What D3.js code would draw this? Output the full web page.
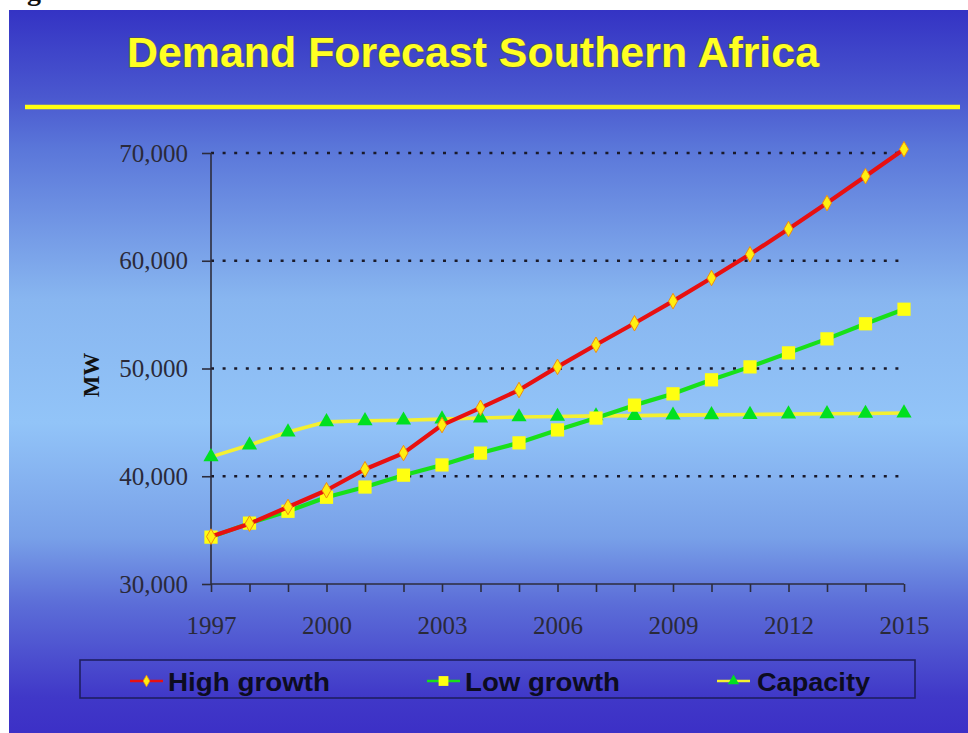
<!DOCTYPE html>
<html>
<head>
<meta charset="utf-8">
<script src="https://cdn.jsdelivr.net/npm/d3@7"></script>
<style>
  html, body { margin: 0; padding: 0; background: #ffffff; }
  svg { display: block; }
</style>
</head>
<body>
<svg id="chart" width="968" height="733"></svg>
<script>
// Southern Africa power demand forecast vs installed capacity (MW)
const years = d3.range(1997, 2016);
const highGrowth = [34400, 35600, 37150, 38700, 40650, 42150, 44750, 46350, 48000, 50150,
                    52200, 54200, 56250, 58400, 60600, 62950, 65350, 67850, 70350];
const lowGrowth  = [34350, 35650, 36750, 38050, 39000, 40100, 41050, 42150, 43100, 44300,
                    45400, 46600, 47650, 48950, 50150, 51450, 52750, 54150, 55500];
const capacity   = [41800, 42900, 44100, 45050, 45150, 45200, 45300, 45400, 45500, 45550,
                    45600, 45630, 45670, 45700, 45730, 45770, 45800, 45830, 45870];
const yTicks = [30000, 40000, 50000, 60000, 70000];
const xLabels = [1997, 2000, 2003, 2006, 2009, 2012, 2015];
const seriesNames = ["High growth", "Low growth", "Capacity"];
const titleText = "Demand Forecast Southern Africa";

const svg = d3.select("#chart");
const W = 968, H = 733;

// slide background
const defs = svg.append("defs");
const grad = defs.append("linearGradient")
  .attr("id", "slideBg").attr("x1", 0).attr("y1", 0).attr("x2", 0).attr("y2", 1);
[
  [0.00, "#3433c4"], [0.12, "#4a58cf"], [0.19, "#5a76d9"], [0.40, "#88b6f0"],
  [0.57, "#92c4f8"], [0.73, "#78a0e8"], [0.82, "#5c6ed8"], [0.95, "#4038c8"], [1.00, "#3c30c6"]
].forEach(([o, c]) => grad.append("stop").attr("offset", o).attr("stop-color", c));

// caption fragment above the slide
svg.append("text")
  .attr("x", 2).attr("y", 0)
  .attr("font-family", "'Liberation Serif', 'Times New Roman', serif")
  .attr("font-weight", "bold").attr("font-size", 28).attr("fill", "#111")
  .text("Figure");

svg.append("rect")
  .attr("x", 9).attr("y", 10).attr("width", W - 9).attr("height", H - 10)
  .attr("fill", "url(#slideBg)");

// title and rule
svg.append("text")
  .attr("x", 127).attr("y", 67)
  .attr("font-family", "'Liberation Sans', Arial, sans-serif")
  .attr("font-weight", "bold").attr("font-size", 43)
  .attr("textLength", 692).attr("lengthAdjust", "spacingAndGlyphs")
  .attr("fill", "#ffff22")
  .attr("stroke", "rgba(90,90,40,0.6)").attr("stroke-width", 1.4)
  .attr("paint-order", "stroke")
  .text(titleText);

svg.append("line")
  .attr("x1", 25).attr("x2", 960).attr("y1", 107).attr("y2", 107)
  .attr("stroke", "#ffff10").attr("stroke-width", 4.5);

// scales
const x = d3.scaleLinear().domain([1997, 2015]).range([211, 904]);
const y = d3.scaleLinear().domain([30000, 70000]).range([584, 153]);

const serif = "'Liberation Serif', 'Times New Roman', serif";
const axisColor = "#2c2c3c";

// dotted gridlines
svg.append("g").selectAll("line")
  .data(yTicks.filter(v => v > 30000))
  .join("line")
  .attr("x1", x(1997)).attr("x2", x(2015))
  .attr("y1", d => y(d)).attr("y2", d => y(d))
  .attr("stroke", "#1a1a2a").attr("stroke-width", 2.6)
  .attr("stroke-dasharray", "3,8.6");

// y axis
const yAxis = d3.axisLeft(y)
  .tickValues(yTicks)
  .tickSize(9)
  .tickPadding(14)
  .tickFormat(d3.format(","));
const gy = svg.append("g").attr("transform", `translate(${x(1997)},0)`).call(yAxis);
gy.select(".domain").attr("stroke", axisColor).attr("stroke-width", 1.6).attr("d", `M-0,${y(70000)}V${y(30000)}`);
gy.selectAll(".tick line").attr("stroke", axisColor).attr("stroke-width", 1.6);
gy.selectAll(".tick text")
  .attr("font-family", serif).attr("font-size", 25).attr("fill", "#2a2a3a");

// x axis
const xAxis = d3.axisBottom(x)
  .tickValues(years)
  .tickSize(8)
  .tickPadding(24)
  .tickFormat(d => xLabels.includes(d) ? String(d) : "");
const gx = svg.append("g").attr("transform", `translate(0,${y(30000)})`).call(xAxis);
gx.select(".domain").attr("stroke", axisColor).attr("stroke-width", 1.6).attr("d", `M${x(1997)},0H${x(2015)}`);
gx.selectAll(".tick line").attr("stroke", axisColor).attr("stroke-width", 1.6);
gx.selectAll(".tick text")
  .attr("font-family", serif).attr("font-size", 25).attr("fill", "#2a2a3a");

// axis title
svg.append("text")
  .attr("transform", "translate(99,375) rotate(-90)")
  .attr("text-anchor", "middle")
  .attr("font-family", serif).attr("font-weight", "bold").attr("font-size", 23)
  .attr("fill", "#111")
  .text("MW");

// series
const series = {
  high: { name: seriesNames[0], values: highGrowth, line: "#e81010", width: 4.2, marker: "diamond",  fill: "#ffee10", stroke: "#f08c10", size: 70 },
  low:  { name: seriesNames[1], values: lowGrowth,  line: "#18e018", width: 4.2, marker: "square",   fill: "#ffff10", stroke: "none", size: 175 },
  cap:  { name: seriesNames[2], values: capacity,   line: "#f4f030", width: 3.6, marker: "triangle", fill: "#00e020", stroke: "none", size: 100 }
};
const symbolType = { triangle: d3.symbolTriangle, square: d3.symbolSquare, diamond: d3.symbolDiamond };

const lineGen = d3.line().x((d, i) => x(years[i])).y(d => y(d));

[series.cap, series.low, series.high].forEach(s => {
  const g = svg.append("g");
  g.append("path")
    .attr("d", lineGen(s.values))
    .attr("fill", "none").attr("stroke", s.line).attr("stroke-width", s.width)
    .attr("stroke-linejoin", "round");
  g.selectAll("path.mk")
    .data(s.values)
    .join("path").attr("class", "mk")
    .attr("d", d3.symbol().type(symbolType[s.marker]).size(s.size))
    .attr("transform", (d, i) => `translate(${x(years[i])},${y(d)})`)
    .attr("fill", s.fill).attr("stroke", s.stroke).attr("stroke-width", 1);
});

// legend
const legend = svg.append("g");
legend.append("rect")
  .attr("x", 80).attr("y", 660).attr("width", 835).attr("height", 38)
  .attr("fill", "none").attr("stroke", "#1e1e62").attr("stroke-width", 1.6);

const legendItems = [
  { s: series.high, x0: 130, tx: 168, tl: 162 },
  { s: series.low,  x0: 427, tx: 465, tl: 155 },
  { s: series.cap,  x0: 717, tx: 757, tl: 113 }
];

legendItems.forEach(it => {
  const s = it.s;
  legend.append("line")
    .attr("x1", it.x0).attr("x2", it.x0 + 33).attr("y1", 681).attr("y2", 681)
    .attr("stroke", s.line).attr("stroke-width", 2.4);
  legend.append("path")
    .attr("d", d3.symbol().type(symbolType[s.marker]).size(s.size * 0.55))
    .attr("transform", `translate(${it.x0 + 16.5},681)`)
    .attr("fill", s.fill).attr("stroke", s.stroke).attr("stroke-width", 0.8);
  legend.append("text")
    .attr("x", it.tx).attr("y", 691)
    .attr("font-family", "'Liberation Sans', Arial, sans-serif")
    .attr("font-weight", "bold").attr("font-size", 25)
    .attr("textLength", it.tl).attr("lengthAdjust", "spacingAndGlyphs")
    .attr("fill", "#0c0c20")
    .text(s.name);
});
</script>
</body>
</html>
